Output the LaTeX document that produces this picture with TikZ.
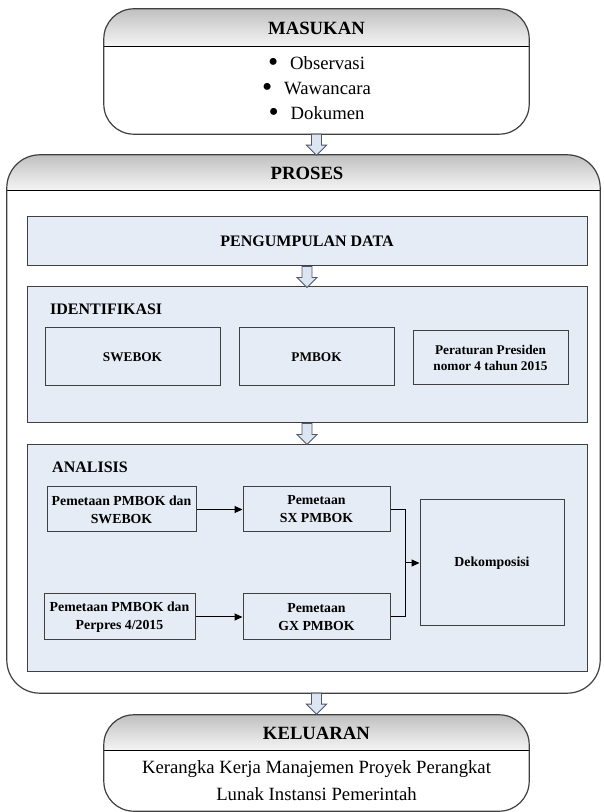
\documentclass[tikz,border=0pt]{standalone}
\usepackage{fontspec}
\setmainfont{Liberation Serif}
\usetikzlibrary{arrows.meta}
\definecolor{linegray}{RGB}{64,64,64}
\definecolor{boxblue}{RGB}{229,236,246}
\definecolor{arrfill}{RGB}{220,230,242}
\definecolor{arrline}{RGB}{80,88,100}
\definecolor{hdtop}{RGB}{192,192,192}
\definecolor{hdbot}{RGB}{246,246,246}
\newcommand\blockarr[1]{\draw[barrow] (#1) ++(-5,0) -- ++(10,0) -- ++(0,-11) -- ++(5,0) -- ++(-10,-10) -- ++(-10,10) -- ++(5,0) -- cycle;}
\newcommand\bigbul{\raisebox{-0.14em}{\scalebox{1.55}{\textbullet}}\hspace{12pt}}
\begin{document}
\begin{tikzpicture}[x=1pt,y=1pt,
  container/.style={fill=white, inner sep=0pt},
  outline/.style={draw=linegray, line width=1.2pt},
  divider/.style={draw=black, line width=1pt},
  title/.style={font=\bfseries\fontsize{18.7}{22}\selectfont, inner sep=0pt},
  body/.style={font=\fontsize{18.7}{25}\selectfont, align=center, inner sep=0pt},
  panel/.style={draw=linegray, fill=boxblue, line width=1pt, inner sep=0pt},
  plabel/.style={font=\bfseries\fontsize{16}{19}\selectfont, inner sep=0pt, anchor=west},
  ibox/.style={draw=linegray, fill=boxblue, line width=1pt, inner sep=0pt, align=center, font=\bfseries\fontsize{13.3}{16}\selectfont},
  abox/.style={draw=linegray, fill=boxblue, line width=1pt, inner sep=0pt, align=center, font=\bfseries\fontsize{13.8}{18}\selectfont},
  barrow/.style={draw=arrline, fill=arrfill, line width=0.9pt, line join=miter},
  link/.style={draw=black, line width=1pt, -{Triangle[length=8pt,width=7pt]}},
  plainlink/.style={draw=black, line width=1pt}
]
\useasboundingbox (0,0) rectangle (603,812);

% ---------- MASUKAN ----------
\node[container, minimum width=425pt, minimum height=125pt] (masukan) at (316.5,740.5) {};
\coordinate (mdiv) at (104,765);
\begin{scope}
  \clip[rounded corners=30pt] (masukan.south west) rectangle (masukan.north east);
  \shade[top color=hdtop, bottom color=hdbot] (mdiv) rectangle (masukan.north east);
\end{scope}
\draw[divider] (mdiv) -- (mdiv -| masukan.east);
\draw[outline, rounded corners=30pt] (masukan.south west) rectangle (masukan.north east);
\node[title] (tmasukan) at (316.5,784) {MASUKAN};
\node[body] (lmasukan) at (316.5,723) {\bigbul Observasi\\\bigbul Wawancara\\\bigbul Dokumen};

% ---------- PROSES ----------
\node[container, minimum width=593pt, minimum height=538pt] (proses) at (303.5,388) {};
\coordinate (pdiv) at (7,621);
\begin{scope}
  \clip[rounded corners=33pt] (proses.south west) rectangle (proses.north east);
  \shade[top color=hdtop, bottom color=hdbot] (pdiv) rectangle (proses.north east);
\end{scope}
\draw[divider] (pdiv) -- (pdiv -| proses.east);
\draw[outline, rounded corners=33pt] (proses.south west) rectangle (proses.north east);
\node[title] (tproses) at (307,639) {PROSES};

% PENGUMPULAN DATA
\node[panel, minimum width=560pt, minimum height=49pt, font=\bfseries\fontsize{16}{19}\selectfont] (peng) at (307,570.5) {PENGUMPULAN DATA};

% IDENTIFIKASI
\node[panel, minimum width=560pt, minimum height=136pt] (ident) at (307,457) {};
\node[plabel] (lident) at (50,503) {IDENTIFIKASI};
\node[ibox, minimum width=175pt, minimum height=58pt] (swebok) at (132.5,455) {SWEBOK};
\node[ibox, minimum width=155pt, minimum height=58pt] (pmbok) at (316.5,455) {PMBOK};
\node[ibox, minimum width=155pt, minimum height=54pt] (perpres) at (490.5,454) {Peraturan Presiden\\nomor 4 tahun 2015};

% ANALISIS
\node[panel, minimum width=560pt, minimum height=227pt] (analisis) at (307,253.5) {};
\node[plabel] (lanalisis) at (52,345) {ANALISIS};
\node[abox, minimum width=149pt, minimum height=45pt] (a1) at (121.5,302.5) {Pemetaan PMBOK dan\\SWEBOK};
\node[abox, minimum width=147pt, minimum height=45pt] (sx) at (316.5,302.5) {Pemetaan\\SX PMBOK};
\node[abox, minimum width=151pt, minimum height=46pt] (a2) at (119.5,195) {Pemetaan PMBOK dan\\Perpres 4/2015};
\node[abox, minimum width=147pt, minimum height=46pt] (gx) at (316.5,195) {Pemetaan\\GX PMBOK};
\node[abox, minimum width=144pt, minimum height=126pt] (dek) at (492,249) {Dekomposisi};
\coordinate (junc) at (405,249);
\draw[link] (a1.east) -- (sx.west);
\draw[link] (a2.east) -- (gx.west);
\draw[plainlink] (sx.east) -| (junc);
\draw[plainlink] (gx.east) -| (junc);
\draw[link] (junc) -- (dek.west);

% ---------- KELUARAN ----------
\node[container, minimum width=425pt, minimum height=96pt] (keluaran) at (316.5,49) {};
\coordinate (kdiv) at (104,61);
\begin{scope}
  \clip[rounded corners=30pt] (keluaran.south west) rectangle (keluaran.north east);
  \shade[top color=hdtop, bottom color=hdbot] (kdiv) rectangle (keluaran.north east);
\end{scope}
\draw[divider] (kdiv) -- (kdiv -| keluaran.east);
\draw[outline, rounded corners=30pt] (keluaran.south west) rectangle (keluaran.north east);
\node[title] (tkeluaran) at (316.5,79) {KELUARAN};
\node[body, font=\fontsize{18.7}{27}\selectfont] (lkeluaran) at (316.5,31) {Kerangka Kerja Manajemen Proyek Perangkat\\Lunak Instansi Pemerintah};

% ---------- block arrows ----------
\blockarr{masukan.south}
\blockarr{peng.south}
\blockarr{ident.south}
\coordinate (parr) at (proses.south -| keluaran.north);
\blockarr{parr}
\end{tikzpicture}
\end{document}
